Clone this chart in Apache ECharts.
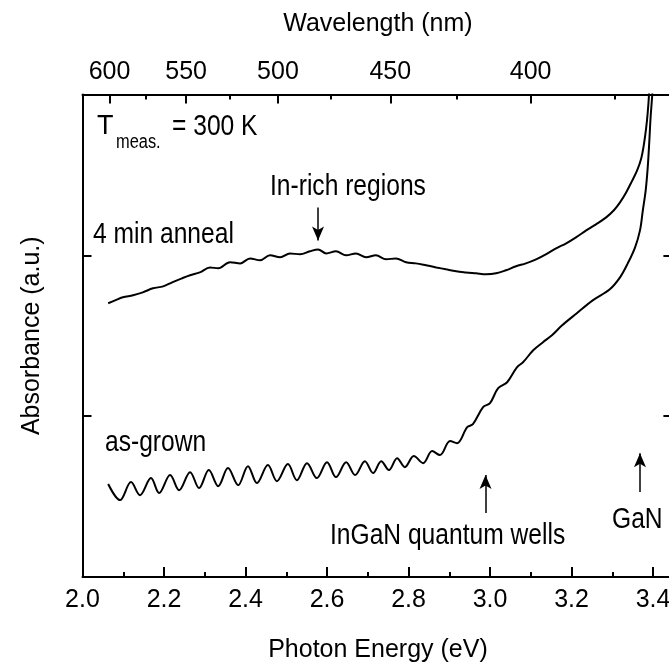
<!DOCTYPE html>
<html>
<head>
<meta charset="utf-8">
<script src="https://cdn.jsdelivr.net/npm/echarts@6/dist/echarts.min.js"></script>
<style>
  html, body { margin: 0; padding: 0; background: #fff; }
  #main { width: 669px; height: 671px; }
</style>
</head>
<body>
<div id="main"></div>
<script>
// values (photon energy in eV, absorbance in a.u.)
var annealE = [2.063, 2.080, 2.099, 2.124, 2.148, 2.173, 2.198, 2.220, 2.244, 2.264,
  2.288, 2.313, 2.333, 2.362, 2.387, 2.411, 2.436, 2.460, 2.485, 2.509,
  2.534, 2.558, 2.578, 2.598, 2.622, 2.647, 2.671, 2.696, 2.720, 2.745,
  2.769, 2.794, 2.818, 2.843, 2.868, 2.892, 2.917, 2.941, 2.966, 2.990,
  3.015, 3.039, 3.064, 3.088, 3.113, 3.137, 3.162, 3.187, 3.211, 3.236,
  3.260, 3.285, 3.304, 3.319, 3.334, 3.348, 3.361, 3.371, 3.378, 3.383,
  3.387, 3.390, 3.391];
var annealA = [1.702, 1.720, 1.739, 1.752, 1.770, 1.795, 1.807, 1.832, 1.857, 1.876,
  1.894, 1.925, 1.919, 1.957, 1.950, 1.981, 1.969, 2.000, 1.988, 2.012,
  2.006, 2.025, 2.037, 2.012, 2.025, 2.000, 2.012, 1.988, 2.000, 1.975,
  1.981, 1.957, 1.950, 1.938, 1.925, 1.913, 1.901, 1.894, 1.888, 1.882,
  1.888, 1.907, 1.932, 1.950, 1.975, 2.006, 2.043, 2.075, 2.112, 2.155,
  2.193, 2.236, 2.280, 2.329, 2.391, 2.460, 2.528, 2.602, 2.696, 2.789,
  2.888, 2.994, 3.087];

var grownE = [2.063, 2.092, 2.119, 2.141, 2.168, 2.188, 2.215, 2.237, 2.264, 2.286,
  2.310, 2.333, 2.357, 2.382, 2.406, 2.428, 2.455, 2.477, 2.504, 2.526,
  2.551, 2.575, 2.600, 2.622, 2.647, 2.669, 2.693, 2.713, 2.733, 2.752,
  2.772, 2.791, 2.813, 2.836, 2.858, 2.877, 2.902, 2.919, 2.944, 2.958,
  2.983, 3.000, 3.020, 3.042, 3.066, 3.081, 3.106, 3.130, 3.152, 3.177,
  3.213, 3.252, 3.294, 3.319, 3.338, 3.356, 3.368, 3.375, 3.382, 3.387,
  3.391, 3.394, 3.398, 3.400];
var grownA = [0.578, 0.478, 0.590, 0.509, 0.615, 0.522, 0.634, 0.540, 0.652, 0.553,
  0.665, 0.565, 0.677, 0.571, 0.689, 0.584, 0.696, 0.596, 0.702, 0.602,
  0.708, 0.615, 0.714, 0.621, 0.714, 0.634, 0.720, 0.646, 0.720, 0.665,
  0.739, 0.683, 0.752, 0.708, 0.783, 0.758, 0.845, 0.832, 0.932, 0.950,
  1.056, 1.081, 1.174, 1.211, 1.304, 1.335, 1.410, 1.460, 1.503, 1.565,
  1.640, 1.720, 1.789, 1.863, 1.950, 2.050, 2.155, 2.280, 2.404, 2.547,
  2.714, 2.857, 2.994, 3.087];

var energyMinor = [2.1, 2.3, 2.5, 2.7, 2.9, 3.1, 3.3];
var waveMajor = [600, 550, 500, 450, 400];
var waveMinor = [575, 525, 475, 425, 375];

// arrows: [energy, tail absorbance, head absorbance]
var arrows = [
  [2.578, 2.298, 2.093],
  [2.989, 0.398, 0.634],
  [3.368, 0.528, 0.770]
];

var HC = 1239.84;
function toE(nm) { return HC / nm; }
function pairs(xs, ys) {
  var d = [];
  for (var i = 0; i < xs.length; i++) d.push([xs[i], ys[i]]);
  return d;
}

var FONT = '"Liberation Sans", Arial, sans-serif';
var FS = 25;
function line() { return { show: true, onZero: false, lineStyle: { color: '#000', width: 2 } }; }
function tick(len, vals) {
  var t = { show: true, inside: true, length: len, lineStyle: { color: '#000', width: 2 } };
  if (vals) t.customValues = vals;
  return t;
}
// narrow-looking annotation text (the figure uses a condensed face)
function label(text, x, y, size) {
  return {
    type: 'text', x: x, y: y, scaleX: 0.82, silent: true,
    style: { text: text, x: 0, y: 0, font: (size || 30) + 'px ' + FONT, fill: '#000',
      align: 'left', verticalAlign: 'middle' }
  };
}

var myChart = echarts.init(document.getElementById('main'));

var option = {
  animation: false,
  backgroundColor: '#fff',
  textStyle: { fontFamily: FONT, color: '#000' },
  grid: {
    left: 82.5, top: 94.5, width: 590.9, height: 482.5,
    containLabel: false, outerBoundsMode: 'none'
  },
  xAxis: [
    {   // bottom energy axis
      type: 'value', position: 'bottom', min: 2.0, max: 3.45, interval: 0.2,
      name: 'Photon Energy (eV)', nameLocation: 'middle', nameGap: 61,
      nameTextStyle: { fontSize: FS, color: '#000', fontFamily: FONT },
      axisLine: line(),
      axisTick: tick(10),
      axisLabel: {
        fontSize: FS, color: '#000', margin: 11, fontFamily: FONT,
        showMaxLabel: false,
        formatter: function (v) { return v.toFixed(1); }
      },
      splitLine: { show: false }
    },
    {   // top wavelength axis, major ticks
      type: 'value', position: 'top', min: 2.0, max: 3.45,
      name: 'Wavelength (nm)', nameLocation: 'middle', nameGap: 58,
      nameTextStyle: { fontSize: FS, color: '#000', fontFamily: FONT },
      axisLine: line(),
      axisTick: tick(9, waveMajor.map(toE)),
      axisLabel: {
        fontSize: FS, color: '#000', margin: 10, fontFamily: FONT,
        customValues: waveMajor.map(toE),
        formatter: function (v) { return Math.round(HC / v); }
      },
      splitLine: { show: false }
    },
    {   // top wavelength axis, minor ticks
      type: 'value', position: 'top', min: 2.0, max: 3.45,
      axisLine: { show: false, onZero: false },
      axisTick: tick(5, waveMinor.map(toE)),
      axisLabel: { show: false },
      splitLine: { show: false }
    },
    {   // bottom minor ticks
      type: 'value', position: 'bottom', min: 2.0, max: 3.45,
      axisLine: { show: false, onZero: false },
      axisTick: tick(5, energyMinor),
      axisLabel: { show: false },
      splitLine: { show: false }
    }
  ],
  yAxis: [
    {
      type: 'value', position: 'left', min: 0, max: 3, interval: 1,
      name: 'Absorbance (a.u.)', nameLocation: 'middle', nameGap: 38,
      nameTextStyle: { fontSize: FS, color: '#000', fontFamily: FONT },
      axisLine: line(),
      axisTick: tick(9),
      axisLabel: { show: false },
      splitLine: { show: false }
    },
    {
      type: 'value', position: 'right', min: 0, max: 3, interval: 1,
      axisLine: line(),
      axisTick: tick(10),
      axisLabel: { show: false },
      splitLine: { show: false }
    }
  ],
  series: [
    {
      name: '4 min anneal', type: 'line', xAxisIndex: 0, yAxisIndex: 0,
      data: pairs(annealE, annealA), showSymbol: false, smooth: 0.35,
      lineStyle: { color: '#000', width: 2 }, silent: true, clip: true
    },
    {
      name: 'as-grown', type: 'line', xAxisIndex: 0, yAxisIndex: 0,
      data: pairs(grownE, grownA), showSymbol: false, smooth: 0.35,
      lineStyle: { color: '#000', width: 2 }, silent: true, clip: true,
      markLine: {
        silent: true, animation: false,
        symbol: ['none', 'arrow'], symbolSize: [9, 14],
        label: { show: false },
        lineStyle: { color: '#000', width: 1.5, type: 'solid' },
        data: arrows.map(function (a) {
          return [{ coord: [a[0], a[1]] }, { coord: [a[0], a[2]] }];
        })
      }
    }
  ],
  graphic: [
    { type: 'text', silent: true,
      style: { text: 'T', x: 97, y: 127, font: '27px ' + FONT, fill: '#000', verticalAlign: 'middle' } },
    label('meas.', 116, 142, 20),
    label('= 300 K', 172, 127),
    label('In-rich regions', 270, 187),
    label('4 min anneal', 93, 235),
    label('as-grown', 105, 443),
    label('InGaN quantum wells', 330, 536),
    label('GaN', 612, 520)
  ]
};

myChart.setOption(option);
</script>
</body>
</html>
